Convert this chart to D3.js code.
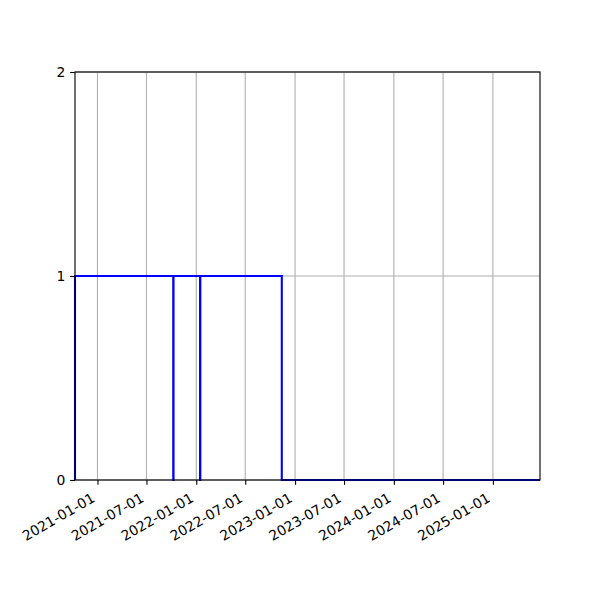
<!DOCTYPE html>
<html>
<head>
<meta charset="utf-8">
<script src="https://cdn.jsdelivr.net/npm/d3@7"></script>
<style>
  html, body { margin: 0; padding: 0; background: #fff; }
  text { font-family: "DejaVu Sans", sans-serif; }
</style>
</head>
<body>
<div id="chart"></div>
<script>
// ---- data ----
// step path vertices (value held until next date)
const stepDates  = ["2020-10-10", "2020-10-10", "2021-10-08", "2021-10-08", "2021-10-09", "2021-10-09",
                    "2022-01-15", "2022-01-15", "2022-01-16", "2022-01-16",
                    "2022-11-13", "2022-11-13", "2025-06-24"];
const stepValues = [0, 1, 1, 0, 0, 1, 1, 0, 0, 1, 1, 0, 0];
const xDomain = ["2020-10-10", "2025-06-24"];
const xTickLabels = ["2021-01-01", "2021-07-01", "2022-01-01", "2022-07-01", "2023-01-01",
                     "2023-07-01", "2024-01-01", "2024-07-01", "2025-01-01"];
const yTicks = [0, 1, 2];

const W = 600, H = 600;
const margin = { left: 75, right: 60, top: 72, bottom: 120 };
const parse = d3.utcParse("%Y-%m-%d");
const fs = 13.9;

const svg = d3.select("#chart").append("svg").attr("width", W).attr("height", H);

const x = d3.scaleUtc().domain(xDomain.map(parse)).range([margin.left, W - margin.right]);
const y = d3.scaleLinear().domain([0, 2]).range([H - margin.bottom, margin.top]);

const x0 = margin.left, x1 = W - margin.right, y0 = H - margin.bottom, y1 = margin.top;
const tickDates = xTickLabels.map(parse);

// grid
const grid = svg.append("g").attr("stroke", "#b0b0b0").attr("stroke-width", 1.11);
grid.selectAll("line.vx").data(tickDates).enter().append("line")
  .attr("x1", d => x(d)).attr("x2", d => x(d)).attr("y1", y0).attr("y2", y1);
grid.selectAll("line.hy").data(yTicks).enter().append("line")
  .attr("x1", x0).attr("x2", x1).attr("y1", d => y(d)).attr("y2", d => y(d));

// step line
const pts = stepDates.map((d, i) => [parse(d), stepValues[i]]);
const line = d3.line().x(d => x(d[0])).y(d => y(d[1]));
svg.append("path").datum(pts).attr("d", line)
  .attr("fill", "none").attr("stroke", "#0000ff").attr("stroke-width", 2.08)
  .attr("stroke-linejoin", "miter").attr("stroke-linecap", "butt");

// axes
const xAxis = d3.axisBottom(x).tickValues(tickDates).tickSize(4.86).tickPadding(0).tickFormat("");
const gx = svg.append("g").attr("transform", `translate(0,${y0})`).call(xAxis);
gx.select(".domain").remove();
gx.selectAll(".tick line").attr("stroke", "#000").attr("stroke-width", 1.11);

const yAxis = d3.axisLeft(y).tickValues(yTicks).tickSize(4.86).tickPadding(4.86).tickFormat(d3.format("d"));
const gy = svg.append("g").attr("transform", `translate(${x0},0)`).call(yAxis);
gy.select(".domain").remove();
gy.selectAll(".tick line").attr("stroke", "#000").attr("stroke-width", 1.11);
gy.selectAll(".tick text").attr("font-size", fs).attr("font-family", "DejaVu Sans")
  .attr("fill", "#000").attr("dy", "0.35em");

// rotated x tick labels
svg.append("g").selectAll("text").data(tickDates).enter().append("text")
  .attr("transform", (d, i) => `translate(${x(d) - 1.64},${500.9}) rotate(-30)`)
  .attr("text-anchor", "end")
  .attr("font-size", fs)
  .attr("fill", "#000")
  .text((d, i) => xTickLabels[i]);

// spines
svg.append("rect").attr("x", x0).attr("y", y1).attr("width", x1 - x0).attr("height", y0 - y1)
  .attr("fill", "none").attr("stroke", "#000").attr("stroke-width", 1.11);
</script>
</body>
</html>
